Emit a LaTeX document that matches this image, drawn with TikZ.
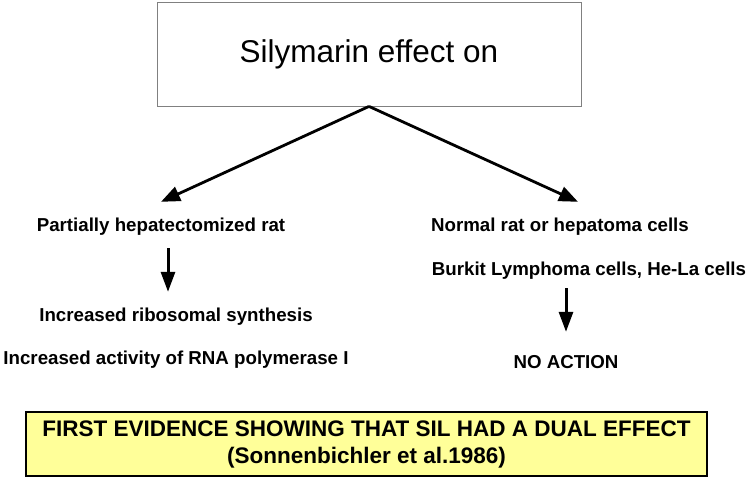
\documentclass[tikz,border=0pt]{standalone}
\usepackage{fontspec}
\setmainfont{Liberation Sans}
\usetikzlibrary{positioning, arrows.meta}
\definecolor{notebg}{RGB}{255,255,153}

\begin{document}
\begin{tikzpicture}[x=1pt, y=-1pt,
    txt/.style={font=\bfseries\fontsize{18.7}{22}\selectfont, inner sep=0pt, text height=14pt, text depth=4pt},
    link/.style={line width=2.8pt, -{Triangle[length=19pt, width=15pt]}},
    stem/.style={line width=3pt, -{Triangle[length=20pt, width=14pt]}}]
    \useasboundingbox (0,0) rectangle (750,478);
    \node (Top) [draw=black!50, line width=0.8pt, minimum width=424pt, minimum height=104pt, font=\fontsize{31.5}{36}\selectfont] at (369,54) {Silymarin effect on};
    % Left branch
    \node (Hep) [txt] at (161,226.5) {Partially hepatectomized rat};
    \node (Ribo) [txt] at (176,316.5) {Increased ribosomal synthesis};
    \node (Pol) [txt, below=25pt of Ribo] {Increased activity of RNA polymerase I};
    % Right branch
    \node (Norm) [txt] at (560,226.5) {Normal rat or hepatoma cells};
    \node (Burk) [txt] at (589,270.5) {Burkit Lymphoma cells, He-La cells};
    \node (None) [txt] at (566,363.5) {NO ACTION};
    % Arrows
    \draw [link] (Top.south) -- ([yshift=15.5pt]Hep.north);
    \draw [link] (Top.south) -- ([xshift=18pt, yshift=15.5pt]Norm.north);
    \draw [stem, shorten <=12.5pt, shorten >=15.5pt] ([xshift=7pt]Hep.south) -- ([xshift=-8pt]Ribo.north);
    \draw [stem, shorten <=8.5pt, shorten >=22.5pt] ([xshift=-23pt]Burk.south) -- (None.north);
    % Conclusion
    \node (Note) [draw, line width=2.5pt, fill=notebg, minimum width=681pt, minimum height=64pt, align=center, font=\bfseries\fontsize{22.5}{27}\selectfont] at (366.5,444) {FIRST EVIDENCE SHOWING THAT SIL HAD A DUAL EFFECT\\(Sonnenbichler et al.1986)};
\end{tikzpicture}
\end{document}
